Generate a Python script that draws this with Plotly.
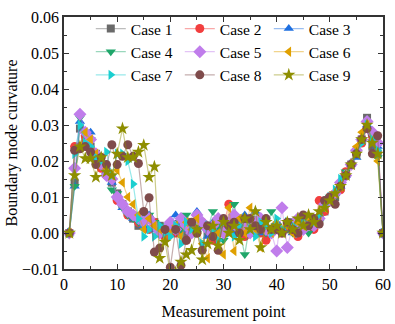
import plotly.graph_objects as go

x_points = list(range(1, 61))
case_names = ["Case 1", "Case 2", "Case 3", "Case 4", "Case 5", "Case 6", "Case 7", "Case 8", "Case 9"]

case1 = [0, 0.014, 0.029, 0.026, 0.024, 0.022, 0.019, 0.017, 0.014, 0.011, 0.008, 0.006, 0.004, 0.002, 0.003, 0.004, 0.003, 0.002, 0.001, 0.000,
         0.002, 0.001, 0.000, 0.003, 0.001, 0.002, 0.000, 0.001, 0.003, 0.000, 0.002, 0.001, 0.004, 0.001, 0.000, 0.002, 0.003, 0.000, 0.001, 0.002,
         0.000, 0.001, 0.003, 0.002, 0.001, 0.003, 0.002, 0.004, 0.006, 0.009, 0.010, 0.013, 0.016, 0.019, 0.022, 0.026, 0.032, 0.024, 0.022, 0]
case2 = [0, 0.024, 0.024, 0.027, 0.023, 0.021, 0.018, 0.016, 0.015, 0.009, 0.008, 0.005, 0.005, 0.003, 0.002, 0.001, 0.003, 0.000, -0.001, 0.001,
         0.000, 0.001, -0.002, 0.002, 0.000, 0.003, 0.001, -0.002, 0.001, 0.002, 0.008, 0.000, 0.002, -0.001, 0.003, 0.001, 0.000, -0.002, 0.001, 0.002,
         0.000, 0.002, 0.001, -0.001, 0.002, 0.003, 0.001, 0.009, 0.006, 0.010, 0.011, 0.012, 0.017, 0.019, 0.023, 0.025, 0.029, 0.027, 0.025, 0]
case3 = [0, 0.013, 0.031, 0.025, 0.028, 0.021, 0.019, 0.017, 0.014, 0.010, 0.007, 0.006, 0.004, 0.004, 0.002, 0.005, 0.001, 0.002, 0.001, 0.002,
         0.005, 0.003, 0.001, 0.000, 0.006, 0.002, -0.001, 0.003, 0.001, 0.004, 0.002, 0.000, 0.003, 0.005, 0.001, 0.006, 0.000, 0.002, 0.001, 0.003,
         0.001, 0.002, 0.000, 0.004, 0.001, 0.003, 0.002, 0.005, 0.008, 0.009, 0.011, 0.013, 0.016, 0.019, 0.021, 0.026, 0.030, 0.026, 0.024, 0]
case4 = [0, 0.013, 0.032, 0.024, 0.026, 0.021, 0.019, 0.016, 0.012, 0.011, 0.007, 0.005, 0.004, 0.003, 0.005, 0.005, 0.003, 0.001, 0.002, 0.000,
         0.003, 0.001, 0.005, 0.002, 0.000, 0.003, 0.001, 0.006, 0.002, -0.002, 0.003, 0.008, 0.001, -0.006, 0.003, 0.004, 0.001, 0.000, 0.006, 0.002,
         0.001, 0.003, 0.000, 0.002, 0.001, 0.000, 0.002, 0.003, 0.007, 0.010, 0.010, 0.013, 0.017, 0.019, 0.022, 0.026, 0.030, 0.027, 0.021, 0]
case5 = [0, 0.018, 0.033, 0.028, 0.026, 0.022, 0.019, 0.016, 0.015, 0.010, 0.008, 0.006, 0.005, 0.004, 0.003, 0.004, 0.002, 0.000, 0.001, 0.003,
         0.001, 0.004, 0.002, 0.000, 0.005, 0.003, 0.001, 0.002, 0.004, 0.000, 0.003, 0.005, 0.001, 0.002, 0.000, 0.003, 0.004, 0.001, 0.000, -0.005,
         0.007, -0.004, 0.002, 0.004, 0.001, 0.003, 0.002, 0.004, 0.008, 0.009, 0.011, 0.014, 0.016, 0.019, 0.023, 0.026, 0.031, 0.028, 0.025, 0]
case6 = [0, 0.023, 0.024, 0.028, 0.026, 0.022, 0.021, 0.018, 0.016, 0.0175, 0.014, 0.010, 0.008, 0.005, 0.001, 0.004, 0.002, 0.001, -0.002, 0.000,
         0.002, -0.001, 0.003, 0.001, 0.004, -0.003, -0.007, 0.002, 0.000, -0.006, 0.007, -0.005, 0.004, 0.000, 0.007, 0.001, -0.004, 0.002, 0.000, 0.003,
         0.001, 0.002, 0.000, 0.003, 0.002, 0.004, 0.003, 0.005, 0.007, 0.009, 0.011, 0.013, 0.016, 0.019, 0.024, 0.028, 0.030, 0.026, 0.020, 0]
case7 = [0, 0.022, 0.030, 0.025, 0.024, 0.021, 0.020, 0.0225, 0.016, 0.022, 0.022, 0.020, 0.0136, 0.004, -0.001, 0.001, -0.001, 0.002, 0.000, -0.001,
         0.002, -0.003, 0.003, 0.001, 0.000, -0.003, 0.002, 0.001, -0.002, 0.003, 0.000, -0.001, 0.002, 0.004, 0.001, -0.001, 0.003, 0.002, 0.000, 0.004,
         0.001, 0.003, 0.002, 0.000, 0.004, 0.002, 0.003, 0.005, 0.008, 0.010, 0.012, 0.015, 0.016, 0.019, 0.022, 0.025, 0.030, 0.026, 0.023, 0]
case8 = [0, 0.023, 0.0234, 0.024, 0.0225, 0.019, 0.021, 0.019, 0.0245, 0.019, 0.0213, 0.0245, 0.0213, 0.0193, 0.006, 0.0098, -0.0053, -0.0042, 0.001, -0.0095,
         0.001, -0.009, -0.002, 0.003, 0.000, -0.0048, 0.002, -0.001, -0.0048, 0.004, 0.002, 0.003, 0.000, 0.004, 0.004, 0.002, 0.001, 0.004, 0.001, 0.001,
         0.000, 0.003, 0.001, 0.000, 0.005, 0.002, 0.004, 0.0025, 0.009, 0.010, 0.008, 0.013, 0.016, 0.019, 0.022, 0.026, 0.029, 0.022, 0.027, 0]
case9 = [0, 0.016, 0.024, 0.0207, 0.0207, 0.0155, 0.021, 0.017, 0.016, 0.022, 0.029, 0.021, 0.021, 0.0225, 0.0244, 0.0155, 0.0184, -0.007, -0.0025, -0.011,
         -0.011, -0.008, -0.006, -0.0048, 0.001, -0.0074, -0.003, 0.002, -0.0035, 0.003, 0.000, 0.002, -0.002, 0.004, 0.001, 0.006, -0.004, 0.003, 0.001, 0.002,
         0.000, 0.003, 0.001, 0.004, 0.002, 0.005, 0.003, 0.006, 0.007, 0.009, 0.011, 0.013, 0.016, 0.019, 0.022, 0.026, 0.030, 0.025, 0.022, 0]

series = [case1, case2, case3, case4, case5, case6, case7, case8, case9]
colors = ["#6a6a6a", "#F23E3E", "#1E6FE0", "#1FA66A", "#C07DEB", "#E0A000", "#1ACFD0", "#7F4B4B", "#8E8E00"]
symbols = ["square", "circle", "triangle-up", "triangle-down", "diamond", "triangle-left", "triangle-right", "circle", "star"]
sizes = [8, 9, 9, 9, 10, 9, 9, 9, 10]


def rgba(hexc, a):
    h = hexc.lstrip("#")
    r, g, b = int(h[0:2], 16), int(h[2:4], 16), int(h[4:6], 16)
    return f"rgba({r},{g},{b},{a})"


fig = go.Figure()
for name, ys, c, s, sz in zip(case_names, series, colors, symbols, sizes):
    fig.add_trace(go.Scatter(
        x=x_points, y=ys, name=name, mode="lines+markers",
        line=dict(color=rgba(c, 0.45), width=1.2),
        marker=dict(symbol=s, size=sz, color=c, line=dict(width=0)),
    ))

font_family = "Liberation Serif"
axis_common = dict(
    showline=True, linecolor="#333333", linewidth=1.5, mirror="allticks",
    ticks="inside", ticklen=5, tickwidth=1.2, tickcolor="#333333",
    showgrid=False, zeroline=False, automargin=False,
    tickfont=dict(family=font_family, size=16, color="black"),
)

fig.update_layout(
    width=395, height=324,
    margin=dict(l=64, r=12, t=13, b=55),
    paper_bgcolor="white", plot_bgcolor="white",
    font=dict(family=font_family, size=16, color="black"),
    xaxis=dict(range=[0, 60.00001], dtick=10, tick0=0,
               title=dict(text="Measurement point", font=dict(family=font_family, size=16), standoff=14),
               minor=dict(ticks="inside", ticklen=3, dtick=5, tickcolor="#333333"),
               **axis_common),
    yaxis=dict(range=[-0.01, 0.0600001], dtick=0.01, tick0=0, tickformat=".2f",
               title=dict(text="Boundary mode curvature", font=dict(family=font_family, size=16), standoff=0),
               minor=dict(ticks="inside", ticklen=3, dtick=0.005, tickcolor="#333333"),
               **axis_common),
    showlegend=True,
    legend=dict(orientation="h", x=0.084, y=1.02, xanchor="left", yanchor="top",
                bgcolor="rgba(0,0,0,0)", font=dict(family=font_family, size=15.5),
                entrywidth=44, entrywidthmode="pixels", tracegroupgap=0),
)

fig.write_html("out.html", config={"displayModeBar": False},
               post_script="document.body.style.margin='0';")
